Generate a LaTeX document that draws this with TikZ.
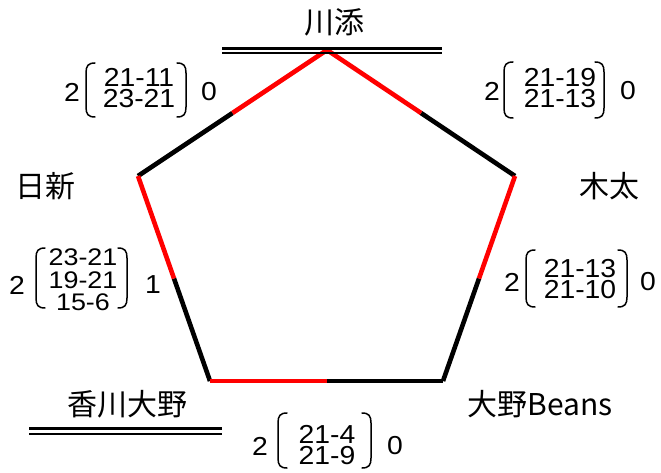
\documentclass[tikz,border=0pt]{standalone}
\usepackage{fontspec}
\setmainfont{Noto Sans CJK JP}
\newfontfamily\numfont[FakeStretch=1.09]{Liberation Sans}
\newfontfamily\numfontw[FakeStretch=1.12]{Liberation Sans}
\usetikzlibrary{calc}
\newcommand\myparen[4]{%
  \draw[paren] (#1+#4*9,#2) .. controls (#1+#4*2,#2) and (#1,#2+3) .. (#1,#2+10) -- (#1,#3-10) .. controls (#1,#3-3) and (#1+#4*2,#3) .. (#1+#4*9,#3);}
\begin{document}
\begin{tikzpicture}[x=1pt,y=-1pt,
  edge/.style={line width=4.6pt},
  win/.style={edge,red,line join=miter},
  lose/.style={edge,black},
  team/.style={font=\fontsize{30}{32}\selectfont, inner sep=0pt},
  num/.style={font=\numfont\fontsize{26}{20.5}\selectfont, inner sep=0pt, align=center},
  numiii/.style={font=\numfontw\fontsize{24}{22.5}\selectfont, inner sep=0pt, align=center},
  paren/.style={line width=1.5pt, line cap=round},
  uline/.style={line width=2.8pt}]
\useasboundingbox (0,0) rectangle (661,473);
% vertices
\coordinate (T) at (327,50);
\coordinate (L) at (138,176);
\coordinate (R) at (515,176);
\coordinate (BL) at (210,381);
\coordinate (BR) at (443,381);
\coordinate (mTL) at ($(T)!0.5!(L)$);
\coordinate (mTR) at ($(T)!0.5!(R)$);
\coordinate (mLB) at ($(L)!0.5!(BL)$);
\coordinate (mRB) at ($(R)!0.5!(BR)$);
\coordinate (mB) at ($(BL)!0.5!(BR)$);
% black halves
\draw[lose] (mTL) -- (L);
\draw[lose] (mTR) -- (R);
\draw[lose] (mLB) -- (BL);
\draw[lose] (mRB) -- (BR);
\draw[lose] (mB) -- (BR);
% red halves
\draw[win] (mTL) -- (T) -- (mTR);
\draw[win] (L) -- (mLB);
\draw[win] (R) -- (mRB);
\draw[win] (BL) -- (mB);
% team names
\node[team] (kawa) at (334,22) {川添};
\node[team] (nis) at (45.5,186) {日新};
\node[team] (kit) at (609,186) {木太};
\node[team] (kag) at (127.5,404) {香川大野};
\node[team] (ono) at (540,404) {大野Beans};
% double underlines
\coordinate (u1a) at (222,48.5); \coordinate (u1b) at (442,48.5);
\coordinate (u2a) at (222,53); \coordinate (u2b) at (442,53);
\draw[uline] (u1a) -- (u1b);
\draw[uline] (u2a) -- (u2b);
\coordinate (u3a) at (29,428.5); \coordinate (u3b) at (222,428.5);
\coordinate (u4a) at (29,434); \coordinate (u4b) at (222,434);
\draw[uline] (u3a) -- (u3b);
\draw[uline] (u4a) -- (u4b);
% top-left score
\node[num] (tl2) at (72,92) {2};
\node[num] (tls) at (139,88) {21-11\\23-21};
\node[num] (tl0) at (209,92) {0};
\myparen{86}{63}{117}{1}
\myparen{186}{63}{117}{-1}
% top-right score
\node[num] (tr2) at (492,91) {2};
\node[num] (trs) at (560,88) {21-19\\21-13};
\node[num] (tr0) at (628,91) {0};
\myparen{504}{62}{118}{1}
\myparen{604}{62}{118}{-1}
% left score
\node[num] (l2) at (17,285) {2};
\node[numiii] (ls) at (83,280) {23-21\\19-21\\15-6};
\node[num] (l1) at (153,285) {1};
\myparen{36}{248}{308}{1}
\myparen{127}{248}{308}{-1}
% right score
\node[num] (r2) at (512,282) {2};
\node[num] (rs) at (580,279) {21-13\\21-10};
\node[num] (r0) at (648,282) {0};
\myparen{526}{250}{307}{1}
\myparen{627}{250}{307}{-1}
% bottom score
\node[num] (b2) at (260,446) {2};
\node[num] (bs) at (327,445) {21-4\\21-9};
\node[num] (b0) at (395,446) {0};
\myparen{278}{413}{468}{1}
\myparen{371}{413}{468}{-1}
\end{tikzpicture}
\end{document}
